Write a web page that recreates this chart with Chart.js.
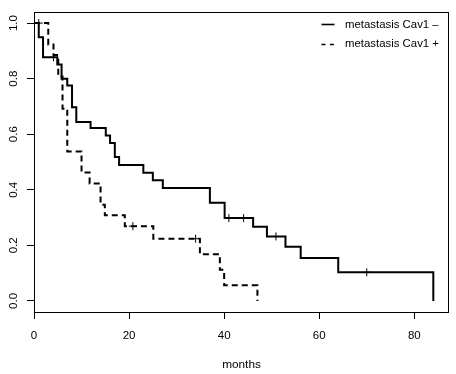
<!DOCTYPE html>
<html><head><meta charset="utf-8">
<script src="https://cdn.jsdelivr.net/npm/chart.js@4/dist/chart.umd.min.js"></script>
<style>html,body{margin:0;padding:0;background:#fff;}#wrap{width:456px;height:374px;}</style>
</head><body><div id="wrap"><canvas id="c" width="456" height="374"></canvas></div>
<script>
// Kaplan-Meier steps (months, survival)
const solidTimes = [0, 1, 1.9, 4.9, 5.8, 7, 8, 8.9, 11.9, 15.1, 16, 17, 17.9, 23, 25, 27.1, 37, 40.1, 46.1, 49, 52.9, 56.1, 64, 84];
const solidSurv  = [1, 0.949, 0.877, 0.851, 0.800, 0.775, 0.697, 0.644, 0.622, 0.595, 0.568, 0.518, 0.489, 0.461, 0.434, 0.406, 0.353, 0.298, 0.267, 0.232, 0.195, 0.154, 0.103, 0];
const solidCensor = [4.1, 41, 44.1, 50.9, 70];
const dashedTimes = [0, 3, 4.1, 5.1, 6, 7, 10, 11.7, 14, 14.9, 19.1, 25.1, 34.9, 39.1, 40, 47];
const dashedSurv  = [1, 0.923, 0.885, 0.808, 0.692, 0.538, 0.462, 0.423, 0.346, 0.308, 0.269, 0.224, 0.168, 0.112, 0.056, 0];
const dashedCensor = [1, 20.8, 34];
const xTicks = [0, 20, 40, 60, 80];
const yTicks = [0, 0.2, 0.4, 0.6, 0.8, 1.0];
const seriesLabels = ['metastasis Cav1 \u2013', 'metastasis Cav1 +'];
const xTitle = 'months';

const FONT = 'Liberation Sans, Arial, Helvetica, sans-serif';

function levelAt(times, surv, t) {
  let s = surv[0];
  for (let i = 0; i < times.length; i++) if (times[i] <= t) s = surv[i];
  return s;
}
const toPts = (ts, ss) => ts.map((t, i) => ({x: t, y: ss[i]}));
const censorPts = (cs, ts, ss) => cs.map(t => ({x: t, y: levelAt(ts, ss, t)}));

const boxPlugin = {
  id: 'box',
  afterDatasetsDraw(chart) {
    const {ctx, chartArea: a} = chart;
    ctx.save();
    ctx.strokeStyle = '#000';
    ctx.lineWidth = 1;
    ctx.strokeRect(Math.round(a.left) + 0.5, Math.round(a.top) + 0.5,
      Math.round(a.right) - Math.round(a.left) - 1, Math.round(a.bottom) - Math.round(a.top));
    ctx.restore();
  }
};

const legendPlugin = {
  id: 'kmLegend',
  afterDraw(chart) {
    const {ctx, chartArea: a} = chart;
    ctx.save();
    chart.data.datasets.forEach(ds => {
      if (ds.legendRow === undefined) return;
      const y = a.top + 12 + ds.legendRow * 19.5;
      ctx.strokeStyle = '#000';
      ctx.lineWidth = 1.6;
      ctx.setLineDash(ds.borderDash && ds.borderDash.length ? [4, 4.4] : []);
      ctx.beginPath();
      ctx.moveTo(a.right - 127.5, Math.round(y) + 0.5);
      ctx.lineTo(a.right - 114.5, Math.round(y) + 0.5);
      ctx.stroke();
      ctx.setLineDash([]);
      ctx.fillStyle = '#000';
      ctx.font = '11.4px ' + FONT;
      ctx.textBaseline = 'middle';
      ctx.textAlign = 'left';
      ctx.fillText(ds.label, a.right - 104, y + 0.5);
    });
    ctx.restore();
  }
};

new Chart(document.getElementById('c'), {
  type: 'line',
  data: {
    datasets: [
      { label: seriesLabels[0], legendRow: 0, data: toPts(solidTimes, solidSurv),
        stepped: true, borderColor: '#000', borderWidth: 2, pointRadius: 0, fill: false, borderCapStyle: 'butt' },
      { label: seriesLabels[1], legendRow: 1, data: toPts(dashedTimes, dashedSurv),
        stepped: true, borderColor: '#000', borderWidth: 2, borderDash: [6, 4], pointRadius: 0, fill: false, borderCapStyle: 'butt' },
      { type: 'scatter', label: 'censor1', data: censorPts(solidCensor, solidTimes, solidSurv),
        pointStyle: 'cross', pointRadius: 4, borderColor: '#000', borderWidth: 1, showLine: false },
      { type: 'scatter', label: 'censor2', data: censorPts(dashedCensor, dashedTimes, dashedSurv),
        pointStyle: 'cross', pointRadius: 4, borderColor: '#000', borderWidth: 1, showLine: false }
    ]
  },
  options: {
    responsive: false,
    devicePixelRatio: 1,
    animation: false,
    events: [],
    layout: { padding: { top: 12, right: 7, left: 0, bottom: 0 } },
    plugins: { legend: { display: false }, tooltip: { enabled: false } },
    scales: {
      x: {
        type: 'linear', min: 0, max: 87.3,
        afterBuildTicks: s => { s.ticks = xTicks.map(v => ({value: v})); },
        afterFit: s => { s.height = 62; s.paddingLeft = 0; s.paddingRight = 0; },
        grid: { display: true, drawOnChartArea: false, drawTicks: true, tickLength: 7, color: '#000', lineWidth: 1 },
        border: { display: false },
        ticks: { color: '#000', font: { family: FONT, size: 11.5 }, padding: 10, maxRotation: 0, minRotation: 0, autoSkip: false,
          callback: v => String(v) },
        title: { display: true, text: xTitle, color: '#000', font: { family: FONT, size: 11.8 }, padding: { top: 0, bottom: 2 } }
      },
      y: {
        type: 'linear', min: -0.04, max: 1.04,
        afterBuildTicks: s => { s.ticks = yTicks.map(v => ({value: v})); },
        afterFit: s => { s.width = 34; s.paddingTop = 0; s.paddingBottom = 0; },
        grid: { display: true, drawOnChartArea: false, drawTicks: true, tickLength: 7, color: '#000', lineWidth: 1 },
        border: { display: false },
        ticks: { color: '#000', font: { family: FONT, size: 11.5 }, padding: 5, minRotation: 90, maxRotation: 90,
          crossAlign: 'center', autoSkip: false, callback: v => Number(v).toFixed(1) }
      }
    }
  },
  plugins: [boxPlugin, legendPlugin]
});
</script>
</body></html>
